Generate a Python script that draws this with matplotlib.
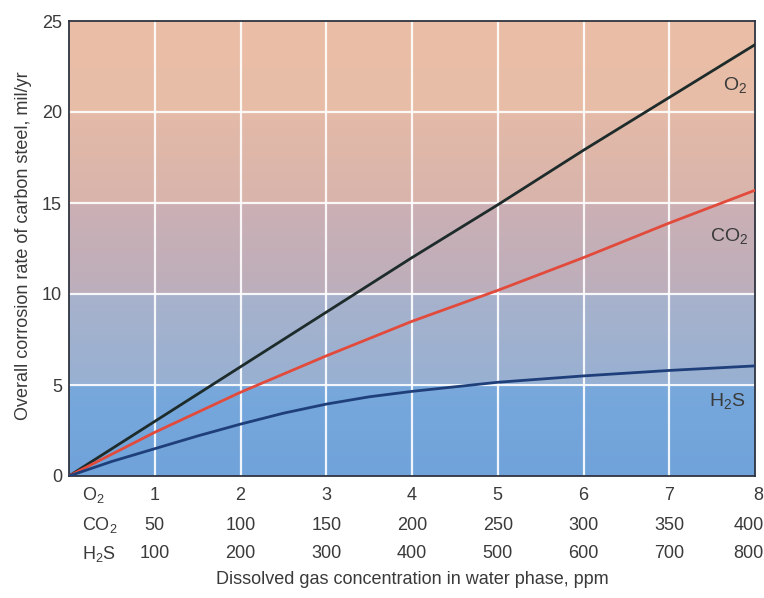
import numpy as np
import matplotlib
matplotlib.use("Agg")
import matplotlib.pyplot as plt
from matplotlib.colors import LinearSegmentedColormap

plt.rcParams['font.family'] = ['Liberation Sans', 'DejaVu Sans']
plt.rcParams['mathtext.fontset'] = 'custom'
plt.rcParams['mathtext.rm'] = 'Liberation Sans'
plt.rcParams['mathtext.it'] = 'Liberation Sans'

# ---- data ----
x_o2 = [0, 1, 2, 3, 4, 5, 6, 7, 8]
y_o2 = [0, 3.0, 6.0, 9.0, 12.0, 14.9, 17.9, 20.8, 23.7]
x_co2 = [0, 1, 2, 3, 4, 5, 6, 7, 8]
y_co2 = [0, 2.4, 4.6, 6.6, 8.5, 10.2, 12.0, 13.9, 15.7]
x_h2s = [0, 0.5, 1, 1.5, 2, 2.5, 3, 3.5, 4, 5, 6, 7, 8]
y_h2s = [0, 0.8, 1.5, 2.2, 2.85, 3.45, 3.95, 4.35, 4.65, 5.15, 5.5, 5.8, 6.05]

tick_pos = [1, 2, 3, 4, 5, 6, 7, 8]
o2_ticks = ['1', '2', '3', '4', '5', '6', '7', '8']
co2_ticks = ['50', '100', '150', '200', '250', '300', '350', '400']
h2s_ticks = ['100', '200', '300', '400', '500', '600', '700', '800']
row_names = ['O$_2$', 'CO$_2$', 'H$_2$S']
y_ticks = [0, 5, 10, 15, 20, 25]

# background color stops (value, rgb)
bg_stops = [(0.0, (112, 163, 218)), (0.199, (120, 168, 220)),
            (0.201, (152, 176, 210)), (0.399, (168, 178, 204)),
            (0.401, (188, 174, 188)), (0.599, (204, 176, 180)),
            (0.601, (216, 180, 172)), (0.799, (228, 186, 168)),
            (0.801, (232, 189, 168)), (1.0, (234, 190, 166))]

txt = '#3a3a3a'

fig = plt.figure(figsize=(7.64, 5.98), dpi=100)
ax = fig.add_axes([69/764, 1-476/598, (755-69)/764, (476-21)/598])

cmap = LinearSegmentedColormap.from_list(
    'bg', [(v, tuple(c/255 for c in rgb)) for v, rgb in bg_stops])
grad = np.linspace(0, 1, 500).reshape(-1, 1)
ax.imshow(grad, aspect='auto', cmap=cmap, origin='lower',
          extent=[0, 8, 0, 25], zorder=0, interpolation='bilinear')

for xv in tick_pos[:-1]:
    ax.axvline(xv, color='white', lw=1.6, zorder=1, alpha=0.9)
for yv in y_ticks[1:-1]:
    ax.axhline(yv, color='white', lw=1.6, zorder=1, alpha=0.9)

ax.plot(x_o2, y_o2, color='#1d2b2a', lw=2.0, zorder=3)
ax.plot(x_co2, y_co2, color='#e24a3b', lw=2.0, zorder=3)
ax.plot(x_h2s, y_h2s, color='#1f3f7a', lw=2.0, zorder=3)

ax.text(7.77, 21.5, 'O$_2$', fontsize=14, color=txt, ha='center', va='center')
ax.text(7.7, 13.2, 'CO$_2$', fontsize=14, color=txt, ha='center', va='center')
ax.text(7.68, 4.1, 'H$_2$S', fontsize=14, color=txt, ha='center', va='center')

ax.set_xlim(0, 8)
ax.set_ylim(0, 25)
ax.set_yticks(y_ticks)
ax.set_yticklabels([str(v) for v in y_ticks], fontsize=13, color=txt)
ax.tick_params(axis='y', length=0, pad=5)
ax.set_xticks([])

for s in ax.spines.values():
    s.set_color('#2e3440')
    s.set_linewidth(1.3)

tr = ax.get_xaxis_transform()
row_y = [-0.042, -0.108, -0.171]
rows = [o2_ticks, co2_ticks, h2s_ticks]
for ry, name, labels in zip(row_y, row_names, rows):
    ax.text(0.15, ry, name, transform=tr, fontsize=13, color=txt,
            ha='left', va='center')
    for xp, lab in zip(tick_pos, labels):
        if xp == tick_pos[-1]:
            ax.text(8.1, ry, lab, transform=tr, fontsize=13, color=txt,
                    ha='right', va='center')
        else:
            ax.text(xp, ry, lab, transform=tr, fontsize=13, color=txt,
                    ha='center', va='center')

fig.text(412/764, 1-580/598, 'Dissolved gas concentration in water phase, ppm',
         fontsize=13, color=txt, ha='center', va='center')
fig.text(24/764, 1-246/598, 'Overall corrosion rate of carbon steel, mil/yr',
         fontsize=13, color=txt, ha='center', va='center', rotation=90)

fig.savefig('out.png', dpi=100)
